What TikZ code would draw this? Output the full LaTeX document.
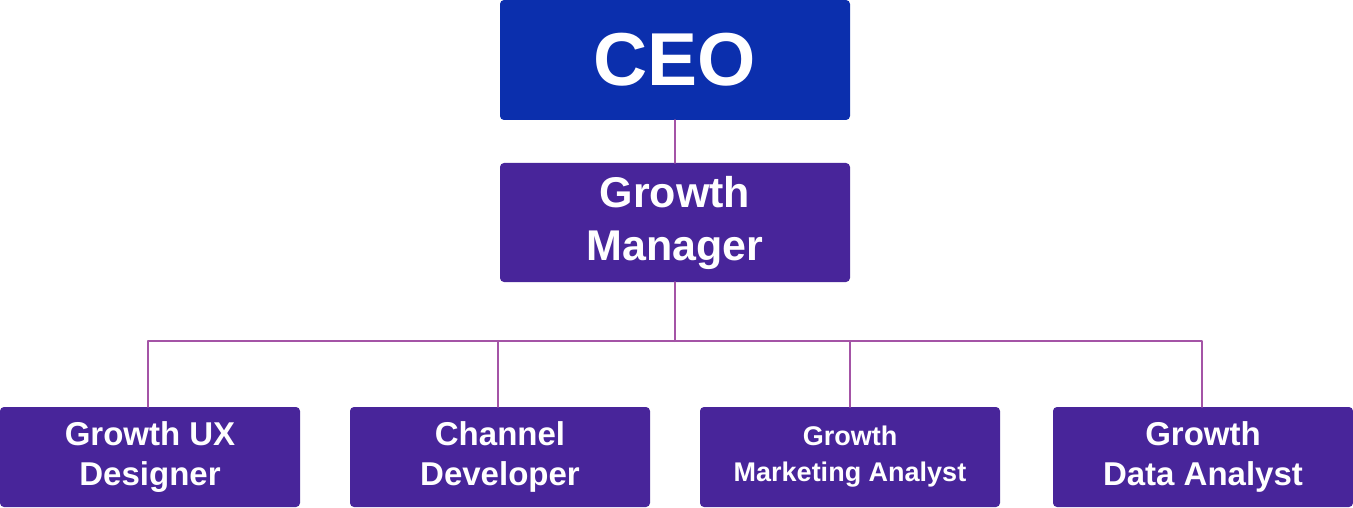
\documentclass[tikz,border=0pt]{standalone}
\usepackage{fontspec}
\setmainfont{Liberation Sans}
\definecolor{ceoblue}{HTML}{0B2FAD}
\definecolor{rolepurple}{HTML}{48259A}
\definecolor{linkpink}{HTML}{A454A6}
\begin{document}
\begin{tikzpicture}[x=1pt, y=1pt, line join=round, line cap=round,
	box/.style={rounded corners=4pt, text=white, align=center, font=\bfseries, inner sep=0pt},
	link/.style={draw=linkpink, line width=2pt}]
	\useasboundingbox (0,0) rectangle (1353,507);
	\def\bw{300} \def\bh{100}
	% top of the chart
	\node[box, fill=ceoblue, minimum width=350, minimum height=120,
		font=\bfseries\fontsize{75}{90}\selectfont] (ceo) at (675,447) {CEO};
	\node[box, fill=rolepurple, minimum width=350, minimum height=119,
		font=\bfseries\fontsize{43}{53}\selectfont] (gm) at (675,284.5) {\raisebox{-3pt}{Growth}\\\raisebox{-3pt}{Manager}};
	% team
	\node[box, fill=rolepurple, minimum width=\bw, minimum height=\bh,
		font=\bfseries\fontsize{33}{40}\selectfont] (ux) at (150,50) {Growth UX\\Designer};
	\node[box, fill=rolepurple, minimum width=\bw, minimum height=\bh,
		font=\bfseries\fontsize{33}{40}\selectfont] (dev) at (500,50) {Channel\\Developer};
	\node[box, fill=rolepurple, minimum width=\bw, minimum height=\bh,
		font=\bfseries\fontsize{27}{36}\selectfont] (mkt) at (850,50) {Growth\\Marketing Analyst};
	\node[box, fill=rolepurple, minimum width=\bw, minimum height=\bh,
		font=\bfseries\fontsize{33}{40}\selectfont] (data) at (1203,50) {Growth\\Data Analyst};
	% links
	\coordinate (bar) at (675,166);
	\draw[link] (ceo.south) -- (gm.north);
	\draw[link] (gm.south) -- (bar);
	\draw[link] (bar) -| ([xshift=-2pt]ux.north);
	\draw[link] (bar) -| ([xshift=-2pt]dev.north);
	\draw[link] (bar) -| (mkt.north);
	\draw[link] (bar) -| ([xshift=-1pt]data.north);
\end{tikzpicture}
\end{document}
